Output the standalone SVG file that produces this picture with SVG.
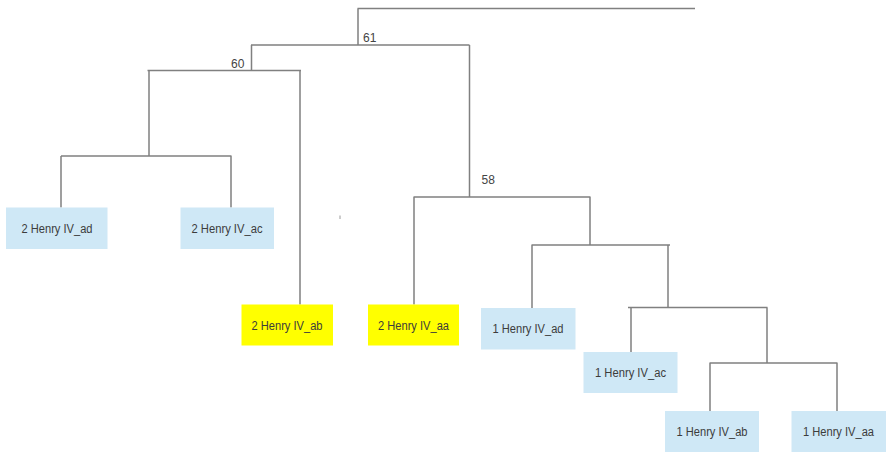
<svg xmlns="http://www.w3.org/2000/svg" width="889" height="452" viewBox="0 0 889 452">
<style>
.edge{fill:none;stroke:#808080;stroke-width:1.5}
.blue{fill:#cfe8f6}
.yellow{fill:#ffff00}
.lbl{font-family:"Liberation Sans",Arial,sans-serif;font-size:12.5px;fill:#3c3c3c;text-anchor:middle}
.num{font-family:"Liberation Sans",Arial,sans-serif;font-size:12px;fill:#444}
</style>
<rect width="889" height="452" fill="#ffffff"/>
<g id="connectors">
<path class="edge" d="M357.5,8.5 H695 M358,8.5 V45 M251,45 H469.5 M251.5,45 V70.5 M147.5,70.5 H301 M149,70.5 V156 M61,156 H231.5 M61,156 V207.5 M231,156 V207.5 M300,70.5 V304.5 M469.5,45 V197 M413.5,197 H590.5 M414,197 V304.5 M590,197 V245 M531.5,245 H670 M532,245 V308 M668,245 V307.5 M628,307.5 H767.5 M631,307.5 V352 M767,307.5 V363 M709.5,363 H837.5 M710,363 V411 M837,363 V411"/>
<path d="M340,215.5 V219" stroke="#9a9a9a" stroke-width="1"/>
</g>
<g id="label-61"><text class="num" x="363" y="41.5">61</text></g>
<g id="label-60"><text class="num" x="231" y="68">60</text></g>
<g id="label-58"><text class="num" x="481.5" y="183.5">58</text></g>
<g id="n-2ad"><rect class="blue" x="6" y="207.5" width="101.5" height="41.5"/><text class="lbl" x="57" y="233" textLength="71" lengthAdjust="spacingAndGlyphs">2 Henry IV_ad</text></g>
<g id="n-2ac"><rect class="blue" x="180.5" y="207.5" width="93.5" height="41.5"/><text class="lbl" x="227" y="233" textLength="71" lengthAdjust="spacingAndGlyphs">2 Henry IV_ac</text></g>
<g id="n-2ab"><rect class="yellow" x="241.5" y="304.5" width="91.5" height="41"/><text class="lbl" x="287" y="329.5" textLength="71" lengthAdjust="spacingAndGlyphs">2 Henry IV_ab</text></g>
<g id="n-2aa"><rect class="yellow" x="368" y="304.5" width="91" height="41"/><text class="lbl" x="413.5" y="329.5" textLength="71" lengthAdjust="spacingAndGlyphs">2 Henry IV_aa</text></g>
<g id="n-1ad"><rect class="blue" x="481" y="308" width="94.5" height="41.5"/><text class="lbl" x="528" y="333" textLength="71" lengthAdjust="spacingAndGlyphs">1 Henry IV_ad</text></g>
<g id="n-1ac"><rect class="blue" x="583.5" y="352" width="94" height="41"/><text class="lbl" x="630.5" y="377" textLength="71" lengthAdjust="spacingAndGlyphs">1 Henry IV_ac</text></g>
<g id="n-1ab"><rect class="blue" x="665" y="411" width="94" height="41"/><text class="lbl" x="712" y="436" textLength="71" lengthAdjust="spacingAndGlyphs">1 Henry IV_ab</text></g>
<g id="n-1aa"><rect class="blue" x="791.5" y="411" width="94.5" height="41"/><text class="lbl" x="838.5" y="436" textLength="71" lengthAdjust="spacingAndGlyphs">1 Henry IV_aa</text></g>
</svg>
